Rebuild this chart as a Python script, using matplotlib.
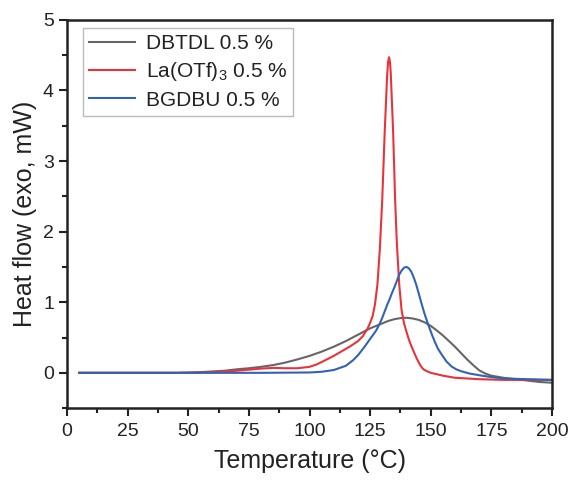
import numpy as np
import matplotlib as mpl
mpl.use('Agg')
import matplotlib.pyplot as plt
from matplotlib.ticker import MultipleLocator

mpl.rcParams['font.family'] = ['Liberation Sans', 'DejaVu Sans']
mpl.rcParams['mathtext.fontset'] = 'custom'
mpl.rcParams['mathtext.rm'] = 'Liberation Sans'

# DBTDL 0.5 %
t_dbtdl = [5, 10, 15, 20, 25, 30, 35, 40, 45, 50, 55, 60, 65, 70, 75, 80, 85, 90, 95,
           100, 105, 110, 115, 120, 125, 130, 132.5, 135, 137.5, 140, 142.5, 145, 147.5,
           150, 152.5, 155, 157.5, 160, 162.5, 165, 167.5, 170, 172.5, 175, 180, 185,
           190, 195, 200]
hf_dbtdl = [0, 0, 0, 0, 0, 0, 0, 0, 0, 0.005, 0.01, 0.02, 0.03, 0.05, 0.065, 0.085, 0.11,
            0.145, 0.19, 0.24, 0.3, 0.37, 0.45, 0.54, 0.63, 0.7, 0.735, 0.76, 0.775, 0.78,
            0.77, 0.75, 0.715, 0.665, 0.6, 0.53, 0.45, 0.37, 0.28, 0.19, 0.11, 0.035,
            -0.01, -0.04, -0.07, -0.09, -0.11, -0.13, -0.14]

# La(OTf)3 0.5 %
t_la = [5, 20, 35, 50, 55, 60, 65, 70, 75, 80, 85, 90, 95, 100, 103, 106, 110, 115, 117,
        120, 122, 124, 125, 126, 127, 128, 129, 130, 131, 132, 132.4, 132.8, 133.2,
        133.5, 134.5, 135.3, 136, 137, 138, 139, 140, 141, 142, 143, 144, 145, 146, 147,
        148, 150, 155, 160, 170, 180, 190, 200]
hf_la = [0, 0, 0, 0, 0.005, 0.01, 0.02, 0.03, 0.045, 0.06, 0.07, 0.065, 0.065, 0.085,
         0.12, 0.17, 0.24, 0.34, 0.38, 0.45, 0.52, 0.63, 0.71, 0.8, 0.97, 1.25, 1.75,
         2.46, 3.4, 4.2, 4.4, 4.47, 4.4, 4.25, 3.4, 2.46, 1.85, 1.25, 0.88, 0.7, 0.58,
         0.47, 0.38, 0.3, 0.22, 0.15, 0.09, 0.05, 0.03, 0.0, -0.04, -0.07, -0.09, -0.1,
         -0.1, -0.1]

# BGDBU 0.5 %
t_bg = [5, 20, 40, 60, 80, 100, 105, 110, 115, 118, 120, 122.5, 125, 127.5, 129, 130,
        131, 132, 133, 134, 135, 136, 137, 138, 139, 140, 141, 142, 143, 144, 145,
        146.3, 147.5, 149, 150.5, 151.8, 153, 154.5, 156.5, 158.6, 160.5, 162.8, 166,
        171, 175, 180, 190, 200]
hf_bg = [0, 0, 0, 0, 0, 0.005, 0.015, 0.04, 0.1, 0.18, 0.25, 0.36, 0.48, 0.6, 0.7, 0.78,
         0.87, 0.96, 1.04, 1.13, 1.21, 1.3, 1.39, 1.45, 1.49, 1.5, 1.48, 1.43, 1.35,
         1.25, 1.13, 0.97, 0.83, 0.68, 0.54, 0.43, 0.34, 0.26, 0.16, 0.09, 0.05, 0.02,
         -0.01, -0.04, -0.06, -0.08, -0.09, -0.1]

fig = plt.figure(figsize=(5.69, 4.83), dpi=100)
ax = fig.add_axes([0.118, 0.155, 0.852, 0.804])

ax.plot(t_dbtdl, hf_dbtdl, color='#666666', lw=1.5, label='DBTDL 0.5 %')
ax.plot(t_la, hf_la, color='#e8333b', lw=1.5, label='La(OTf)$_\\mathrm{3}$ 0.5 %')
ax.plot(t_bg, hf_bg, color='#3163b5', lw=1.5, label='BGDBU 0.5 %')

ax.set_xlim(0, 200)
ax.set_ylim(-0.5, 5)
ax.xaxis.set_major_locator(MultipleLocator(25))
ax.xaxis.set_minor_locator(MultipleLocator(12.5))
ax.yaxis.set_major_locator(MultipleLocator(1))
ax.yaxis.set_minor_locator(MultipleLocator(0.5))
ax.tick_params(which='both', direction='out', width=1.5, labelsize=14, color='#222222',
               labelcolor='#222222')
ax.tick_params(which='major', length=6)
ax.tick_params(which='minor', length=3.5)
ax.tick_params(axis='x', pad=5)
for s in ax.spines.values():
    s.set_linewidth(1.8)
    s.set_color('#222222')

ax.set_xlabel('Temperature (°C)', fontsize=18, color='#222222', labelpad=6)
ax.set_ylabel('Heat flow (exo, mW)', fontsize=18, color='#222222', labelpad=4)

leg = ax.legend(loc='upper left', bbox_to_anchor=(0.033, 0.979), borderaxespad=0,
                fontsize=15, frameon=True, fancybox=False, handlelength=2.2,
                handletextpad=0.5, labelspacing=0.35, borderpad=0.3)
leg.get_frame().set_edgecolor('#aaaaaa')
leg.get_frame().set_linewidth(1.0)
for t in leg.get_texts():
    t.set_color('#222222')

fig.savefig('out.png', dpi=100)
